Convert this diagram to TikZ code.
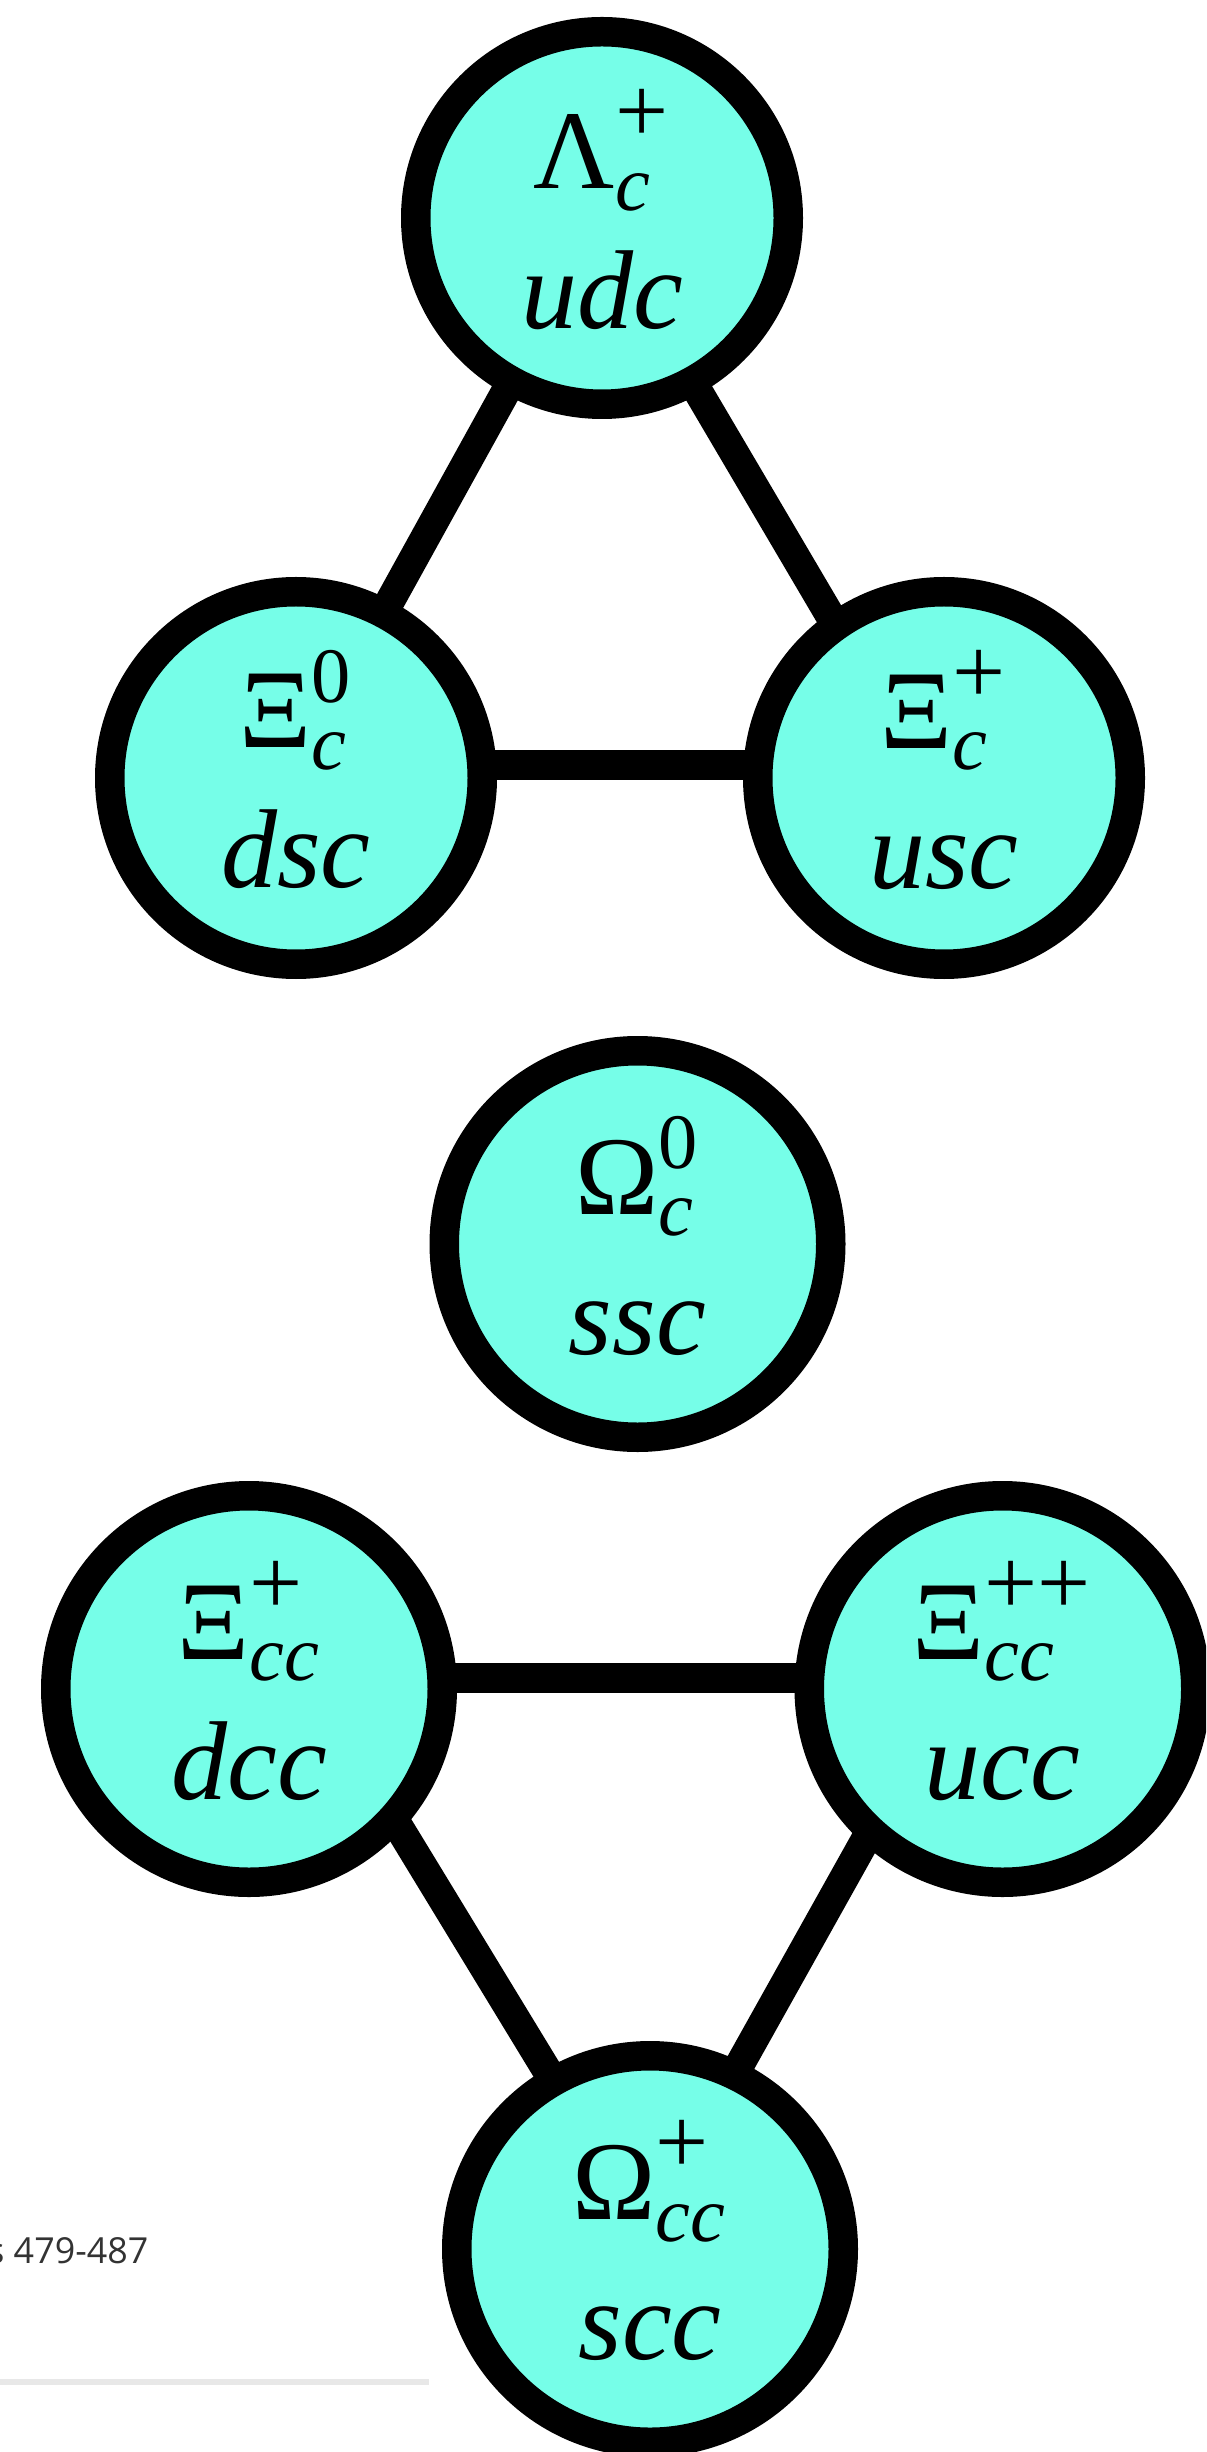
\documentclass[tikz,border=0pt]{standalone}
\usepackage{amsmath}
\usepackage{fontspec}
\setmainfont{Liberation Serif}
\newfontfamily\notefont{Open Sans}
\usepackage{tikz}
\usetikzlibrary{backgrounds}
\usepackage{xcolor}
\definecolor{charm}{RGB}{118,254,232}
\definecolor{notegray}{RGB}{51,51,51}
\definecolor{rulegray}{RGB}{232,232,232}

% charmed baryon: symbol with sub/superscript over the quark content
\newcommand{\bary}[4]{$\text{#1}_{\text{\itshape #2}}^{\text{#3}}$\\{\itshape #4}\rule[-0.18cm]{0pt}{0pt}}
\newcommand{\pl}{\scalebox{1.2}{+}}

\tikzset{
  baryon/.style={circle, draw=black, line width=0.295cm, fill=charm,
    minimum size=3.725cm, inner sep=0pt, align=center,
    font=\fontsize{31.9}{39.8}\selectfont},
  bigbaryon/.style={baryon, minimum size=3.865cm},
  link/.style={line width=0.295cm, shorten <=-3pt, shorten >=-3pt}
}

\begin{document}
\begin{tikzpicture}
  \clip (0,0) rectangle (12.06,-24.52);

  % singly charmed
  \node[baryon] (lamc) at (6.02,-2.18) {\bary{Λ}{c}{\pl}{udc}};
  \node[baryon] (xicz) at (2.96,-7.78) {\bary{Ξ}{c}{0}{dsc}};
  \node[baryon] (xicp) at (9.44,-7.78) {\bary{Ξ}{c}{\pl}{usc}};
  \node[bigbaryon] (omcz) at (6.375,-12.44) {\bary{Ω}{c}{0}{ssc}};

  % doubly charmed
  \node[bigbaryon] (xiccp) at (2.49,-16.89) {\bary{Ξ}{cc}{\pl}{dcc}};
  \node[bigbaryon] (xiccpp) at (10.025,-16.89) {\bary{Ξ}{cc}{\pl\pl}{ucc}};
  \node[bigbaryon] (omccp) at (6.50,-22.49) {\bary{Ω}{cc}{\pl}{scc}};

  \begin{pgfonlayer}{background}
    \draw[link] (lamc.241.5) -- (xicz.62.4);
    \draw[link] (lamc.299.1) -- (xicp.125.3);
    \draw[link] ([yshift=0.13cm]xicz.center) -- ([yshift=0.13cm]xicp.center);
    \draw[link] ([yshift=0.11cm]xiccp.center) -- ([yshift=0.11cm]xiccpp.center);
    \draw[link] (xiccp.317.8) -- (omccp.120.8);
    \draw[link] (xiccpp.228.9) -- (omccp.64.3);
  \end{pgfonlayer}

  \node[anchor=base east, inner sep=0pt, text=notegray,
    font=\notefont\fontsize{10.2}{12}\selectfont] (pages) at (1.49,-22.63) {s 479-487};
  \draw[rulegray, line width=0.06cm] (0,-23.82) -- (4.29,-23.82);
\end{tikzpicture}
\end{document}
